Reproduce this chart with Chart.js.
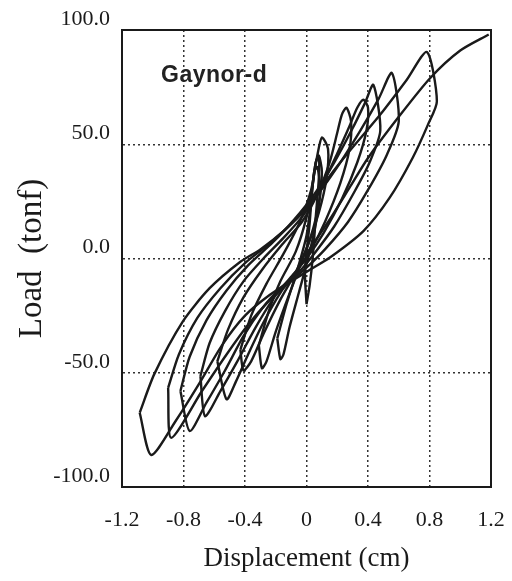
<!DOCTYPE html>
<html>
<head>
<meta charset="utf-8">
<script src="https://cdn.jsdelivr.net/npm/chart.js@4.4.1/dist/chart.umd.min.js"></script>
<style>
  html, body { margin: 0; padding: 0; background: #ffffff; }
  #wrap { width: 512px; height: 581px; }
</style>
</head>
<body>
<div id="wrap"><canvas id="loopChart" width="512" height="581"></canvas></div>
<script>
// axis ticks
const xTicks = [-1.2, -0.8, -0.4, 0, 0.4, 0.8, 1.2];
const xTickLabels = ['-1.2', '-0.8', '-0.4', '0', '0.4', '0.8', '1.2'];
const yTicks = [-100, -50, 0, 50, 100];
const yTickLabels = ['-100.0', '-50.0', '0.0', '50.0', '100.0'];

// hysteresis loops, [displacement cm, load tonf]
const loop1 = [[-1.085,-67.5],[-0.99,-50.6],[-0.805,-27.6],[-0.63,-13],[-0.43,-1.4],[-0.3,4],[-0.15,12],[0,22],[0.15,36],[0.28,47],[0.48,63],[0.65,78],[0.783,90.4],
  [0.848,68.8],[0.79,58.6],[0.69,44],[0.54,26.5],[0.37,12],[0.15,0.3],[0.02,-5],[-0.1,-10],[-0.24,-16],[-0.4,-25],[-0.55,-38],[-0.7,-55],[-0.85,-71],[-1.01,-86],[-1.085,-67.5]];
const loop2 = [[-0.9,-56.6],[-0.83,-42],[-0.71,-26],[-0.56,-13],[-0.4,-2],[-0.25,6],[-0.1,15],[0.05,26],[0.2,40],[0.35,56],[0.47,70],[0.555,81.2],
  [0.6,60],[0.52,45],[0.4,30],[0.27,16],[0.12,4],[0,-4],[-0.12,-11],[-0.25,-19],[-0.38,-29],[-0.52,-42],[-0.68,-58],[-0.88,-78.5],[-0.9,-56.6]];
const loop3 = [[-0.82,-58],[-0.76,-43],[-0.65,-27],[-0.52,-14],[-0.38,-3],[-0.22,7],[-0.08,17],[0.05,28],[0.18,42],[0.3,57],[0.38,68],[0.435,76],
  [0.48,56],[0.41,42],[0.31,29],[0.18,14],[0.06,3],[-0.05,-6],[-0.17,-13],[-0.29,-22],[-0.41,-34],[-0.53,-49],[-0.65,-63],[-0.76,-75.5],[-0.82,-58]];
const loop4 = [[-0.69,-51.5],[-0.63,-37],[-0.53,-23],[-0.41,-10],[-0.28,0],[-0.15,9],[-0.02,19],[0.1,32],[0.2,46],[0.28,58],[0.33,66],[0.37,69.5],[0.4,66],
  [0.39,56],[0.33,42],[0.23,26],[0.11,11],[0,0],[-0.1,-8],[-0.21,-17],[-0.33,-30],[-0.45,-45],[-0.56,-58],[-0.66,-69],[-0.69,-51.5]];
const loop5 = [[-0.58,-45],[-0.51,-31],[-0.41,-17],[-0.29,-5],[-0.16,6],[-0.03,16],[0.07,28],[0.15,42],[0.2,55],[0.23,63],[0.26,66],[0.29,60],
  [0.28,48],[0.22,33],[0.12,16],[0.03,4],[-0.06,-5],[-0.17,-15],[-0.28,-28],[-0.38,-42],[-0.46,-54],[-0.52,-61.6],[-0.58,-45]];
const loop6 = [[-0.43,-40],[-0.36,-25],[-0.26,-11],[-0.15,2],[-0.05,15],[0.03,30],[0.07,45],[0.1,53],[0.14,48],[0.13,35],[0.08,20],[0.01,6],
  [-0.07,-6],[-0.17,-18],[-0.28,-33],[-0.36,-45],[-0.41,-49],[-0.43,-40]];
const loop7 = [[-0.31,-38],[-0.25,-24],[-0.17,-10],[-0.07,3],[0,18],[0.04,32],[0.06,42],[0.08,45],[0.1,38],[0.08,24],[0.03,10],[-0.04,-3],
  [-0.12,-17],[-0.2,-32],[-0.26,-45],[-0.29,-48],[-0.31,-38]];
const loop8 = [[-0.19,-35],[-0.13,-20],[-0.06,-5],[0,10],[0.03,25],[0.05,38],[0.07,40],[0.09,30],[0.06,15],[0.01,0],[-0.05,-15],[-0.11,-30],
  [-0.15,-42],[-0.17,-44],[-0.19,-35]];
const loop9 = [[0,-20],[-0.01,-5],[0.02,15],[0.04,32],[0.06,42],[0.08,45],[0.08,35],[0.06,18],[0.04,0],[0.02,-12],[0,-20]];
// last loading run out to the right edge
const finalRun = [[0,2],[0.15,17],[0.28,31],[0.4,44],[0.6,62],[0.805,79],[1.0,91],[1.185,98]];

const allLoops = [loop1, loop2, loop3, loop4, loop5, loop6, loop7, loop8, loop9, finalRun];

const datasets = allLoops.map(function(pts) {
    return {
        data: pts.map(p => ({ x: p[0], y: p[1] })),
        showLine: true,
        borderColor: '#1a1a1a',
        borderWidth: 2.4,
        pointRadius: 0,
        tension: 0.25,
        fill: false
    };
});

// frame + label inside the plot
const framePlugin = {
    id: 'frame',
    afterDatasetsDraw(chart) {
        const { ctx, chartArea } = chart;
        ctx.save();
        ctx.strokeStyle = '#1a1a1a';
        ctx.lineWidth = 2;
        ctx.strokeRect(chartArea.left, chartArea.top, chartArea.right - chartArea.left, chartArea.bottom - chartArea.top);
        ctx.fillStyle = '#222';
        ctx.font = 'bold 23px "Liberation Sans", Arial, sans-serif';
        ctx.letterSpacing = '0.5px';
        ctx.textAlign = 'left';
        ctx.textBaseline = 'middle';
        ctx.fillText('Gaynor-d', 161, 76);
        ctx.restore();
    }
};

const serif = '"Liberation Serif", "Times New Roman", serif';

// fixed box sizes so the plot frame lands where the reference has it
function fitX(scale) {
    scale.height = 94;
    scale.paddingLeft = 0;
    scale.paddingRight = 0;
}
function fitY(scale) {
    scale.width = 122;
    scale.paddingTop = 0;
    scale.paddingBottom = 0;
}

new Chart(document.getElementById('loopChart').getContext('2d'), {
    type: 'scatter',
    data: { datasets: datasets },
    options: {
        responsive: false,
        animation: false,
        layout: { padding: { left: 0, top: 30, right: 21, bottom: 0 } },
        plugins: { legend: { display: false }, tooltip: { enabled: false } },
        scales: {
            x: {
                type: 'linear',
                min: -1.2,
                max: 1.2,
                afterBuildTicks: axis => { axis.ticks = xTicks.map(v => ({ value: v })); },
                afterFit: fitX,
                ticks: {
                    callback: (v, i) => xTickLabels[i],
                    color: '#1a1a1a',
                    font: { family: serif, size: 22 },
                    padding: 20,
                    maxRotation: 0
                },
                grid: { color: '#333', lineWidth: 1.5, drawTicks: false },
                border: { display: true, color: '#1a1a1a', width: 2, dash: [2, 3] },
                title: {
                    display: true,
                    text: 'Displacement (cm)',
                    color: '#1a1a1a',
                    font: { family: serif, size: 27 },
                    padding: { top: 0, bottom: 6 }
                }
            },
            y: {
                type: 'linear',
                min: -100,
                max: 100,
                afterBuildTicks: axis => { axis.ticks = yTicks.map(v => ({ value: v })); },
                afterFit: fitY,
                ticks: {
                    callback: (v, i) => yTickLabels[i],
                    color: '#1a1a1a',
                    font: { family: serif, size: 22 },
                    padding: 12,
                    labelOffset: -11
                },
                grid: { color: '#333', lineWidth: 1.5, drawTicks: false },
                border: { display: true, color: '#1a1a1a', width: 2, dash: [2, 3] },
                title: {
                    display: true,
                    text: 'Load  (tonf)',
                    color: '#1a1a1a',
                    font: { family: serif, size: 33 },
                    padding: { top: 13, bottom: 0 }
                }
            }
        }
    },
    plugins: [framePlugin]
});
</script>
</body>
</html>
